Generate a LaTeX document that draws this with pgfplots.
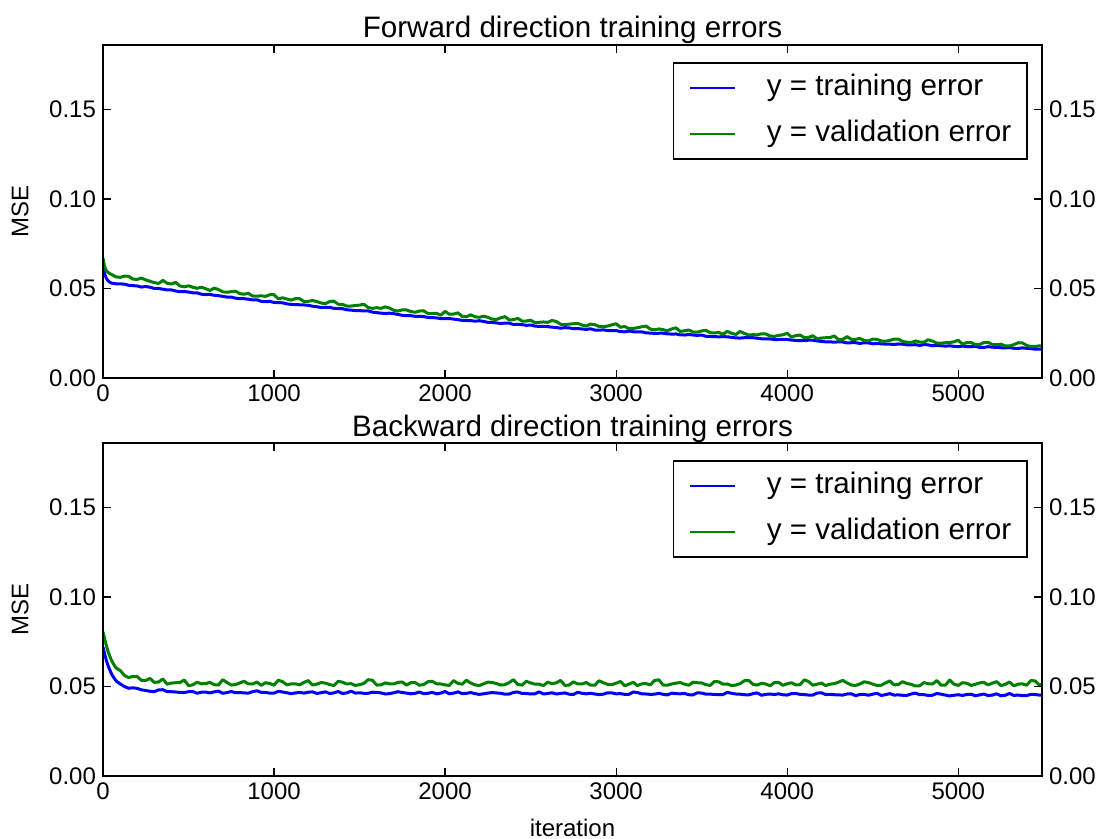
\documentclass[border=0pt]{standalone}
\usepackage{fontspec}
\setmainfont{Liberation Sans}
\usepackage{pgfplots}
\usepackage{pgfplotstable}
\pgfplotsset{compat=1.18}

\definecolor{mplblue}{rgb}{0,0,1}
\definecolor{mplgreen}{rgb}{0,0.5,0}

% forward direction: iteration, training MSE, validation MSE
\pgfplotstableread{
it train valid
0 0.0630 0.0670
5 0.0600 0.0642
10 0.0580 0.0620
20 0.0556 0.0598
30 0.0543 0.0590
40 0.0535 0.0583
50 0.0530 0.0578
75 0.0526 0.0565
100 0.0526 0.0562
125 0.0524 0.0569
150 0.0518 0.0568
175 0.0516 0.0552
200 0.0514 0.0551
225 0.0508 0.0558
250 0.0511 0.0548
275 0.0507 0.0540
300 0.0500 0.0533
325 0.0500 0.0528
350 0.0496 0.0545
375 0.0492 0.0529
400 0.0492 0.0525
425 0.0486 0.0534
450 0.0482 0.0514
475 0.0483 0.0509
500 0.0480 0.0515
525 0.0476 0.0507
550 0.0476 0.0501
575 0.0468 0.0507
600 0.0466 0.0499
625 0.0467 0.0489
650 0.0462 0.0502
675 0.0460 0.0494
700 0.0456 0.0481
725 0.0452 0.0479
750 0.0452 0.0482
775 0.0446 0.0485
800 0.0443 0.0471
825 0.0443 0.0468
850 0.0440 0.0473
875 0.0436 0.0457
900 0.0437 0.0457
925 0.0428 0.0459
950 0.0426 0.0456
975 0.0428 0.0465
1000 0.0422 0.0465
1025 0.0421 0.0442
1050 0.0420 0.0448
1075 0.0414 0.0441
1100 0.0411 0.0435
1125 0.0410 0.0443
1150 0.0409 0.0443
1175 0.0408 0.0427
1200 0.0406 0.0428
1225 0.0401 0.0433
1250 0.0398 0.0427
1275 0.0394 0.0419
1300 0.0395 0.0415
1325 0.0395 0.0427
1350 0.0389 0.0429
1375 0.0388 0.0412
1400 0.0387 0.0411
1425 0.0381 0.0402
1450 0.0379 0.0402
1475 0.0377 0.0405
1500 0.0376 0.0407
1525 0.0375 0.0412
1550 0.0375 0.0394
1575 0.0368 0.0389
1600 0.0365 0.0393
1625 0.0362 0.0389
1650 0.0361 0.0397
1675 0.0362 0.0391
1700 0.0359 0.0378
1725 0.0355 0.0374
1750 0.0350 0.0381
1775 0.0348 0.0380
1800 0.0348 0.0371
1825 0.0344 0.0367
1850 0.0345 0.0374
1875 0.0343 0.0375
1900 0.0338 0.0360
1925 0.0337 0.0360
1950 0.0336 0.0361
1975 0.0331 0.0351
2000 0.0331 0.0372
2025 0.0332 0.0356
2050 0.0329 0.0357
2075 0.0326 0.0364
2100 0.0322 0.0344
2125 0.0321 0.0342
2150 0.0321 0.0353
2175 0.0317 0.0342
2200 0.0320 0.0339
2225 0.0316 0.0345
2250 0.0311 0.0339
2275 0.0310 0.0329
2300 0.0308 0.0327
2325 0.0304 0.0336
2350 0.0307 0.0343
2375 0.0306 0.0324
2400 0.0299 0.0326
2425 0.0300 0.0333
2450 0.0298 0.0318
2475 0.0294 0.0318
2500 0.0296 0.0323
2525 0.0290 0.0309
2550 0.0288 0.0311
2575 0.0289 0.0313
2600 0.0287 0.0311
2625 0.0284 0.0321
2650 0.0282 0.0316
2675 0.0278 0.0300
2700 0.0281 0.0298
2725 0.0280 0.0301
2750 0.0275 0.0303
2775 0.0276 0.0305
2800 0.0274 0.0296
2825 0.0271 0.0290
2850 0.0275 0.0301
2875 0.0268 0.0298
2900 0.0267 0.0288
2925 0.0269 0.0287
2950 0.0265 0.0290
2975 0.0264 0.0297
3000 0.0265 0.0303
3025 0.0259 0.0283
3050 0.0258 0.0288
3075 0.0262 0.0275
3100 0.0258 0.0276
3125 0.0257 0.0281
3150 0.0258 0.0286
3175 0.0252 0.0290
3200 0.0251 0.0273
3225 0.0249 0.0269
3250 0.0250 0.0274
3275 0.0250 0.0270
3300 0.0247 0.0264
3325 0.0245 0.0274
3350 0.0246 0.0280
3375 0.0241 0.0260
3400 0.0240 0.0264
3425 0.0243 0.0268
3450 0.0240 0.0257
3475 0.0238 0.0256
3500 0.0240 0.0263
3525 0.0233 0.0266
3550 0.0232 0.0253
3575 0.0231 0.0252
3600 0.0230 0.0254
3625 0.0231 0.0245
3650 0.0230 0.0260
3675 0.0227 0.0250
3700 0.0224 0.0243
3725 0.0223 0.0260
3750 0.0225 0.0249
3775 0.0226 0.0240
3800 0.0225 0.0242
3825 0.0222 0.0241
3850 0.0219 0.0247
3875 0.0218 0.0246
3900 0.0218 0.0235
3925 0.0215 0.0232
3950 0.0215 0.0238
3975 0.0216 0.0241
4000 0.0215 0.0250
4025 0.0212 0.0229
4050 0.0210 0.0236
4075 0.0208 0.0240
4100 0.0210 0.0225
4125 0.0211 0.0227
4150 0.0211 0.0236
4175 0.0207 0.0219
4200 0.0204 0.0223
4225 0.0202 0.0225
4250 0.0202 0.0225
4275 0.0200 0.0235
4300 0.0202 0.0215
4325 0.0201 0.0215
4350 0.0196 0.0231
4375 0.0197 0.0216
4400 0.0197 0.0216
4425 0.0193 0.0221
4450 0.0197 0.0210
4475 0.0196 0.0207
4500 0.0191 0.0217
4525 0.0192 0.0216
4550 0.0191 0.0207
4575 0.0189 0.0205
4600 0.0189 0.0210
4625 0.0187 0.0217
4650 0.0190 0.0217
4675 0.0189 0.0204
4700 0.0185 0.0200
4725 0.0185 0.0198
4750 0.0186 0.0207
4775 0.0182 0.0201
4800 0.0187 0.0200
4825 0.0185 0.0214
4850 0.0180 0.0206
4875 0.0182 0.0195
4900 0.0180 0.0195
4925 0.0178 0.0197
4950 0.0180 0.0198
4975 0.0177 0.0202
5000 0.0175 0.0211
5025 0.0178 0.0189
5050 0.0176 0.0198
5075 0.0175 0.0198
5100 0.0177 0.0187
5125 0.0171 0.0187
5150 0.0171 0.0198
5175 0.0175 0.0199
5200 0.0172 0.0187
5225 0.0171 0.0186
5250 0.0169 0.0189
5275 0.0168 0.0179
5300 0.0170 0.0179
5325 0.0166 0.0186
5350 0.0165 0.0197
5375 0.0168 0.0196
5400 0.0166 0.0182
5425 0.0164 0.0176
5450 0.0161 0.0176
5470 0.0161 0.0179
5490 0.0162 0.0180
}\fwdtable

% backward direction: iteration, training MSE, validation MSE
\pgfplotstableread{
it train valid
0 0.0720 0.0805
10 0.0680 0.0765
20 0.0645 0.0727
30 0.0615 0.0694
40 0.0592 0.0668
50 0.0570 0.0645
60 0.0554 0.0628
70 0.0540 0.0612
80 0.0528 0.0601
100 0.0515 0.0590
125 0.0500 0.0562
150 0.0490 0.0550
175 0.0493 0.0556
200 0.0489 0.0555
225 0.0481 0.0534
250 0.0478 0.0534
275 0.0473 0.0545
300 0.0471 0.0523
325 0.0481 0.0525
350 0.0482 0.0542
375 0.0471 0.0513
400 0.0471 0.0519
425 0.0469 0.0521
450 0.0467 0.0522
475 0.0466 0.0536
500 0.0471 0.0505
525 0.0472 0.0509
550 0.0462 0.0524
575 0.0468 0.0515
600 0.0469 0.0516
625 0.0464 0.0523
650 0.0470 0.0510
675 0.0474 0.0508
700 0.0462 0.0538
725 0.0466 0.0522
750 0.0472 0.0508
775 0.0465 0.0511
800 0.0466 0.0520
825 0.0464 0.0529
850 0.0463 0.0514
875 0.0471 0.0514
900 0.0476 0.0525
925 0.0467 0.0506
950 0.0467 0.0521
975 0.0463 0.0517
1000 0.0463 0.0507
1025 0.0473 0.0535
1050 0.0469 0.0527
1075 0.0465 0.0509
1100 0.0460 0.0515
1125 0.0464 0.0515
1150 0.0467 0.0509
1175 0.0463 0.0523
1200 0.0468 0.0533
1225 0.0470 0.0508
1250 0.0461 0.0513
1275 0.0465 0.0522
1300 0.0470 0.0519
1325 0.0461 0.0511
1350 0.0464 0.0505
1375 0.0472 0.0529
1400 0.0461 0.0524
1425 0.0464 0.0514
1450 0.0474 0.0516
1475 0.0463 0.0506
1500 0.0465 0.0510
1525 0.0462 0.0517
1550 0.0462 0.0538
1575 0.0468 0.0535
1600 0.0467 0.0508
1625 0.0464 0.0509
1650 0.0458 0.0520
1675 0.0460 0.0515
1700 0.0465 0.0514
1725 0.0471 0.0523
1750 0.0466 0.0525
1775 0.0463 0.0508
1800 0.0459 0.0521
1825 0.0462 0.0522
1850 0.0469 0.0507
1875 0.0460 0.0511
1900 0.0462 0.0527
1925 0.0467 0.0529
1950 0.0459 0.0515
1975 0.0463 0.0514
2000 0.0472 0.0509
2025 0.0459 0.0506
2050 0.0463 0.0533
2075 0.0470 0.0517
2100 0.0460 0.0513
2125 0.0462 0.0535
2150 0.0466 0.0519
2175 0.0460 0.0509
2200 0.0456 0.0505
2225 0.0459 0.0515
2250 0.0463 0.0524
2275 0.0466 0.0523
2300 0.0464 0.0516
2325 0.0462 0.0508
2350 0.0457 0.0510
2375 0.0458 0.0522
2400 0.0467 0.0538
2425 0.0469 0.0511
2450 0.0461 0.0508
2475 0.0461 0.0529
2500 0.0458 0.0520
2525 0.0459 0.0513
2550 0.0470 0.0513
2575 0.0458 0.0505
2600 0.0461 0.0524
2625 0.0465 0.0516
2650 0.0458 0.0520
2675 0.0461 0.0534
2700 0.0464 0.0506
2725 0.0457 0.0508
2750 0.0455 0.0526
2775 0.0468 0.0514
2800 0.0462 0.0514
2825 0.0459 0.0522
2850 0.0462 0.0508
2875 0.0458 0.0507
2900 0.0455 0.0532
2925 0.0457 0.0521
2950 0.0465 0.0512
2975 0.0464 0.0510
3000 0.0459 0.0518
3025 0.0460 0.0528
3050 0.0456 0.0504
3075 0.0456 0.0513
3100 0.0469 0.0523
3125 0.0466 0.0505
3150 0.0459 0.0515
3175 0.0458 0.0516
3200 0.0456 0.0509
3225 0.0457 0.0534
3250 0.0462 0.0537
3275 0.0456 0.0508
3300 0.0453 0.0507
3325 0.0463 0.0514
3350 0.0460 0.0519
3375 0.0459 0.0522
3400 0.0461 0.0513
3425 0.0454 0.0507
3450 0.0453 0.0524
3475 0.0465 0.0521
3500 0.0463 0.0520
3525 0.0457 0.0510
3550 0.0457 0.0506
3575 0.0456 0.0528
3600 0.0454 0.0526
3625 0.0455 0.0513
3650 0.0467 0.0514
3675 0.0462 0.0505
3700 0.0458 0.0508
3725 0.0457 0.0516
3750 0.0454 0.0532
3775 0.0453 0.0534
3800 0.0460 0.0512
3825 0.0464 0.0508
3850 0.0451 0.0518
3875 0.0456 0.0514
3900 0.0458 0.0504
3925 0.0455 0.0522
3950 0.0459 0.0523
3975 0.0454 0.0507
4000 0.0452 0.0515
4025 0.0460 0.0521
4050 0.0461 0.0509
4075 0.0456 0.0510
4100 0.0455 0.0537
4125 0.0452 0.0528
4150 0.0452 0.0507
4175 0.0463 0.0513
4200 0.0465 0.0519
4225 0.0455 0.0505
4250 0.0456 0.0513
4275 0.0454 0.0516
4300 0.0453 0.0524
4325 0.0452 0.0534
4350 0.0458 0.0520
4375 0.0459 0.0508
4400 0.0449 0.0506
4425 0.0455 0.0514
4450 0.0456 0.0526
4475 0.0451 0.0522
4500 0.0457 0.0513
4525 0.0462 0.0506
4550 0.0450 0.0507
4575 0.0454 0.0520
4600 0.0460 0.0531
4625 0.0452 0.0509
4650 0.0453 0.0511
4675 0.0451 0.0527
4700 0.0450 0.0517
4725 0.0458 0.0512
4750 0.0463 0.0503
4775 0.0454 0.0504
4800 0.0454 0.0522
4825 0.0450 0.0515
4850 0.0451 0.0514
4875 0.0461 0.0533
4900 0.0457 0.0508
4925 0.0452 0.0507
4950 0.0447 0.0536
4975 0.0451 0.0513
5000 0.0454 0.0506
5025 0.0450 0.0521
5050 0.0455 0.0518
5075 0.0457 0.0506
5100 0.0448 0.0512
5125 0.0453 0.0520
5150 0.0458 0.0523
5175 0.0449 0.0509
5200 0.0452 0.0519
5225 0.0459 0.0527
5250 0.0448 0.0505
5275 0.0451 0.0512
5300 0.0461 0.0525
5325 0.0450 0.0504
5350 0.0452 0.0513
5375 0.0449 0.0515
5400 0.0449 0.0507
5425 0.0456 0.0533
5450 0.0455 0.0531
5475 0.0452 0.0507
5490 0.0451 0.0512
}\bwdtable

\pgfplotsset{
  errframe/.style={
    scale only axis,
    width=469.5pt, height=166.5pt,
    xmin=0, xmax=5490, ymin=0, ymax=0.186,
    axis line style={line width=0.8pt},
    every tick/.style={black, line width=0.6pt},
    tick align=inside,
    major tick length=4pt,
    xtick={0,1000,2000,3000,4000,5000},
    ytick={0,0.05,0.10,0.15},
    yticklabels={0.00,0.05,0.10,0.15},
    tick label style={font=\fontsize{12}{14}\selectfont},
    /pgf/number format/assume math mode=true,
  },
  errpanel/.style={
    errframe,
    xticklabels={0,1000,2000,3000,4000,5000},
    every axis title shift=0pt,
    title style={at={(axis description cs:0.5,1)}, anchor=base, yshift=3.5pt,
      font=\fontsize{14.8}{17}\selectfont},
    ylabel={MSE},
    ylabel style={at={(axis description cs:0,0.5)}, anchor=center,
      yshift=41.5pt, font=\fontsize{12}{14}\selectfont},
    legend cell align=left,
    legend image code/.code={
      \draw[##1, line width=1pt] (0pt,0pt) -- (22.5pt,0pt);
      \path (37.5pt,0pt);
    },
    legend style={at={(axis description cs:1,1)}, anchor=north east,
      xshift=-7pt, yshift=-8.5pt,
      draw=black, line width=0.8pt, fill=white,
      font=\fontsize{14.8}{17}\selectfont,
      inner xsep=8pt, inner ysep=5.25pt, row sep=8.5pt,
      nodes={inner sep=0pt, text height=11pt, text depth=3.5pt}},
  },
  rightlabels/.style={
    errframe,
    xticklabels={},
    yticklabel pos=right,
  },
  trainline/.style={mplblue, line width=1.5pt, line join=round},
  validline/.style={mplgreen, line width=1.5pt, line join=round},
}

\begin{document}
\begin{tikzpicture}
  % upper panel
  \begin{axis}[errpanel, at={(51.5pt,-22.5pt)}, anchor=north west,
      title={Forward direction training errors}]
    \addplot[trainline] table[x=it, y=train] {\fwdtable};
    \addlegendentry{y = training error}
    \addplot[validline] table[x=it, y=valid] {\fwdtable};
    \addlegendentry{y = validation error}
  \end{axis}
  \begin{axis}[rightlabels, at={(51.5pt,-22.5pt)}, anchor=north west]
  \end{axis}

  % lower panel
  \begin{axis}[errpanel, at={(51.5pt,-221.5pt)}, anchor=north west,
      title={Backward direction training errors},
      xlabel={iteration},
      xlabel style={at={(axis description cs:0.5,0)}, anchor=base,
        yshift=-30pt, font=\fontsize{12}{14}\selectfont}]
    \addplot[trainline] table[x=it, y=train] {\bwdtable};
    \addlegendentry{y = training error}
    \addplot[validline] table[x=it, y=valid] {\bwdtable};
    \addlegendentry{y = validation error}
  \end{axis}
  \begin{axis}[rightlabels, at={(51.5pt,-221.5pt)}, anchor=north west]
  \end{axis}

  \pgfresetboundingbox
  \path[use as bounding box] (0pt,0pt) rectangle (551.5pt,-419.5pt);
\end{tikzpicture}
\end{document}
